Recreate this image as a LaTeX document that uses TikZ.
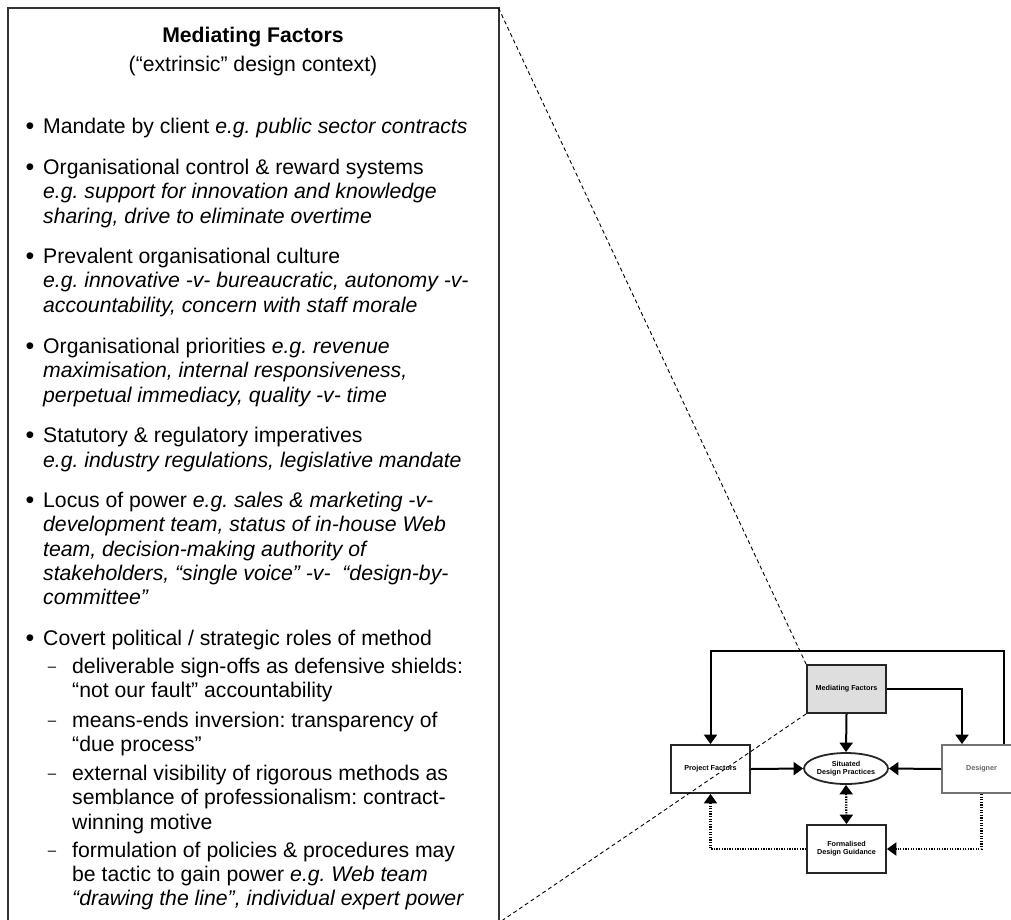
\documentclass[tikz,border=0pt]{standalone}
\usepackage{fontspec}
\setmainfont{Liberation Sans}
\usetikzlibrary{arrows.meta,shapes.geometric}
\tikzset{Tri/.tip={Triangle[width=13pt,length=9.5pt]}}
\frenchspacing
\begin{document}
\frenchspacing
\begin{tikzpicture}[x=1pt,y=-1pt,
  txt/.style={anchor=base west,inner sep=0pt,font=\fontsize{21.2}{24.3}\selectfont},
  ctr/.style={anchor=base,inner sep=0pt,font=\fontsize{21.2}{24.3}\selectfont},
  bul/.style={anchor=base,inner sep=0pt,font=\fontsize{25}{28}\selectfont},
  dsh/.style={anchor=base,inner sep=0pt,font=\fontsize{15}{18}\selectfont},
  box/.style={draw=black!85,line width=1.8pt,minimum width=79pt,minimum height=48pt,inner sep=0pt,
    font=\fontsize{7.2}{8.2}\selectfont\bfseries,align=center},
  conn/.style={line width=2pt,-{Tri}},
  dots/.style={line width=2.2pt,dash pattern=on 1.3pt off 1.3pt},
  zoomline/.style={line width=0.9pt,dash pattern=on 4pt off 3pt},
  bigbox/.style={line width=2pt,draw=black!80}
]
\useasboundingbox (0,0) rectangle (1011,919);
\clip (0,0) rectangle (1011,919);

% big panel
\draw[bigbox] (8,8) rectangle (498.5,923);
\coordinate (btr) at (498.5,8);
\coordinate (bbr) at (498.5,923);

\node[ctr] (title) at (253,42) {\bfseries Mediating Factors};
\node[ctr] (sub) at (253,71.5) {(“extrinsic” design context)};

% bullets
\node[bul] (d1) at (30,134) {•};
\node[txt] (t1) at (43,133) {Mandate by client \textit{e.g. public sector contracts}};

\node[bul] (d2) at (30,175.5) {•};
\node[txt] (t2a) at (43,174.5) {Organisational control \& reward systems};
\node[txt] (t2b) at (43,198.8) {\textit{e.g. support for innovation and knowledge}};
\node[txt] (t2c) at (43,223) {\textit{sharing, drive to eliminate overtime}};

\node[bul] (d3) at (30,264.5) {•};
\node[txt] (t3a) at (43,263.5) {Prevalent organisational culture};
\node[txt] (t3b) at (43,287.8) {\textit{e.g. innovative -v- bureaucratic, autonomy -v-}};
\node[txt] (t3c) at (43,312) {\textit{accountability, concern with staff morale}};

\node[bul] (d4) at (30,354.3) {•};
\node[txt] (t4a) at (43,353.3) {Organisational priorities \textit{e.g. revenue}};
\node[txt] (t4b) at (43,377.6) {\textit{maximisation, internal responsiveness,}};
\node[txt] (t4c) at (43,402) {\textit{perpetual immediacy, quality -v- time}};

\node[bul] (d5) at (30,443.7) {•};
\node[txt] (t5a) at (43,442.7) {Statutory \& regulatory imperatives};
\node[txt] (t5b) at (43,467) {\textit{e.g. industry regulations, legislative mandate}};

\node[bul] (d6) at (30,508.5) {•};
\node[txt] (t6a) at (43,507.5) {Locus of power \textit{e.g. sales \& marketing -v-}};
\node[txt] (t6b) at (43,531.8) {\textit{development team, status of in-house Web}};
\node[txt] (t6c) at (43,556) {\textit{team, decision-making authority of}};
\node[txt] (t6d) at (43,580.4) {\textit{stakeholders, “single voice” -v-\ \ “design-by-}};
\node[txt] (t6e) at (43,604.7) {\textit{committee”}};

\node[bul] (d7) at (30,646.5) {•};
\node[txt] (t7) at (43,645.5) {Covert political / strategic roles of method};

\node[dsh] (s1d) at (52,671) {–};
\node[txt] (s1a) at (72,673) {deliverable sign-offs as defensive shields:};
\node[txt] (s1b) at (72,697.3) {“not our fault” accountability};

\node[dsh] (s2d) at (52,725) {–};
\node[txt] (s2a) at (72,727) {means-ends inversion: transparency of};
\node[txt] (s2b) at (72,751.3) {“due process”};

\node[dsh] (s3d) at (52,778.3) {–};
\node[txt] (s3a) at (72,780.3) {external visibility of rigorous methods as};
\node[txt] (s3b) at (72,804.6) {semblance of professionalism: contract-};
\node[txt] (s3c) at (72,829) {winning motive};

\node[dsh] (s4d) at (52,855) {–};
\node[txt] (s4a) at (72,857) {formulation of policies \& procedures may};
\node[txt] (s4b) at (72,881.3) {be tactic to gain power \textit{e.g. Web team}};
\node[txt] (s4c) at (72,905.6) {\textit{“drawing the line”, individual expert power}};

% small diagram
\node[box,fill=black!13] (mf) at (846.5,689) {Mediating Factors};
\node[box] (pf) at (710.5,769) {Project Factors};
\node[box,draw=black!55,text=black!60] (des) at (981.5,769) {Designer};
\node[box,ellipse,minimum width=84pt,minimum height=31pt] (sdp) at (846,768.5) {Situated\\Design Practices};
\node[box] (fg) at (846.5,849) {Formalised\\Design Guidance};

\draw[conn] ([xshift=22.5pt]des.north) -- ++(0,-93) -| (pf.north);
\draw[conn] (mf.east) -| ([xshift=-19.5pt]des.north);
\draw[conn] (mf.south) -- (sdp.north);
\draw[conn] (pf.east) -- (sdp.west);
\draw[conn] (des.west) -- (sdp.east);
\draw[dots,{Tri}-{Tri}] (sdp.south) -- (fg.north);
\draw[dots,-{Tri}] (fg.west) -| (pf.south);
\draw[dots,-{Tri}] (des.south) |- (fg.east);

% zoom lines
\draw[zoomline] (btr) -- (mf.north west);
\draw[zoomline] (mf.south west) -- (bbr);
\end{tikzpicture}
\end{document}
